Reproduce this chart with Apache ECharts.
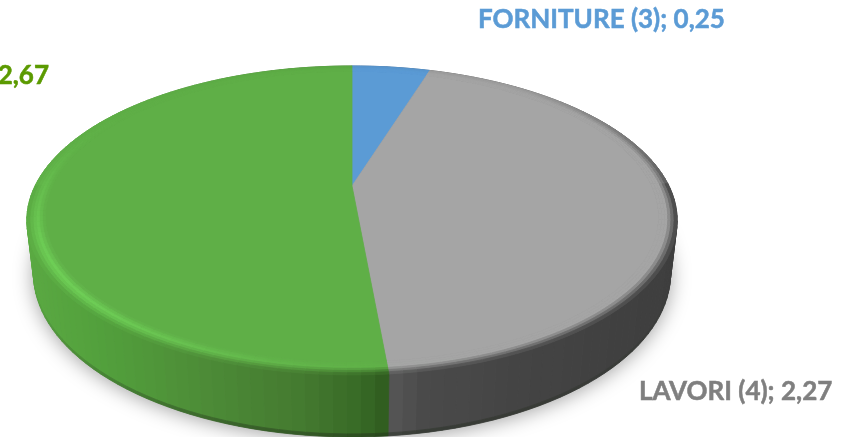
<!DOCTYPE html>
<html><head><meta charset="utf-8">
<style>html,body{margin:0;padding:0;background:#fff}#c{width:856px;height:437px}</style>
<script src="https://cdn.jsdelivr.net/npm/echarts@6/dist/echarts.min.js"></script>
</head><body><div id="c"></div>
<script>
const sliceNames = ['FORNITURE', 'LAVORI', 'SERVIZI'];
const sliceValues = [0.25, 2.27, 2.67];
const labelTexts = ['FORNITURE (3); 0,25', 'LAVORI (4); 2,27', '2,67'];
const topColors = ['#5B9BD5', '#A5A5A5', '#5FAF47'];

const total = sliceValues.reduce((a, b) => a + b, 0);
const hex = c => [1, 3, 5].map(i => parseInt(c.substr(i, 2), 16));
const mix = (a, b, t) => a.map((v, i) => v + (b[i] - v) * t);
const css = a => 'rgb(' + a.map(v => Math.round(v)).join(',') + ')';

// perspective projection of the tilted disc
const CX = 352, CY = 186, R = 317, RY = 146.8, K = 0.223, DEPTH = 53.2, M = 0.02;
function project(theta, r, d) {
  const x = r * Math.sin(theta), y = r * Math.cos(theta);
  const w = 1 + K * y + M * d;
  return [CX + R * x / w, CY + (-RY * y + DEPTH * d) / w];
}
function sliceAngles(i) {
  let s = 0;
  for (let j = 0; j < i; j++) s += sliceValues[j];
  return [s / total * 2 * Math.PI, (s + sliceValues[i]) / total * 2 * Math.PI];
}
const sideStops = [
  [[0, '#3a5f88'], [900, '#3a5f88']],
  [[380, '#5a5a5a'], [425, '#4a4a4a'], [520, '#444444'], [680, '#3e3e3e']],
  [[27, '#5aa942'], [100, '#52a03c'], [200, '#4d8c37'], [300, '#447a30'], [360, '#386a26'], [390, '#2e5a1e']]
];
function sideColor(i, x) {
  const s = sideStops[i];
  if (x <= s[0][0]) return hex(s[0][1]);
  for (let k = 1; k < s.length; k++) {
    if (x <= s[k][0]) return mix(hex(s[k - 1][1]), hex(s[k][1]), (x - s[k - 1][0]) / (s[k][0] - s[k - 1][0]));
  }
  return hex(s[s.length - 1][1]);
}
const steps = a => Math.max(2, Math.ceil((a[1] - a[0]) / (2 * Math.PI / 180)));
const poly = (pts, col, z2) => ({
  type: 'polygon', shape: { points: pts },
  style: { fill: col, stroke: col, lineWidth: 0.8 }, silent: true, z2: z2 || 0
});

function renderShadow() {
  const pts = [];
  for (let k = 0; k < 180; k++) pts.push(project(k * 2 * Math.PI / 180, 1, 1));
  return { type: 'polygon', shape: { points: pts }, silent: true,
    style: { fill: '#777', shadowBlur: 20, shadowColor: 'rgba(0,0,0,0.38)', shadowOffsetY: 2 } };
}
function renderSide(params) {
  const i = params.dataIndex, a = sliceAngles(i), n = steps(a), children = [];
  for (let k = 0; k < n; k++) {
    const t0 = a[0] + (a[1] - a[0]) * k / n, t1 = a[0] + (a[1] - a[0]) * (k + 1) / n;
    const mid = (t0 + t1) / 2;
    const c = sideColor(i, project(mid, 1, 0)[0]);
    const dark = 0.4 * Math.pow(Math.max(0, -Math.cos(mid)), 2);
    children.push(poly([project(t0, 1, 0), project(t1, 1, 0), project(t1, 1, 0.95), project(t0, 1, 0.95)], css(c)));
    children.push(poly([project(t0, 1, 0.95), project(t1, 1, 0.95), project(t1, 1, 1), project(t0, 1, 1)], css(mix(c, [30, 40, 25], dark))));
  }
  return { type: 'group', children };
}
function bevelColor(i, theta, t) {
  const top = hex(topColors[i]);
  const edge = sideColor(i, project(theta, 1, 0)[0]);
  const deg = theta * 180 / Math.PI;
  const h = Math.pow(Math.max(0, Math.cos((deg - 235) * Math.PI / 180)), 4);
  const light = top.map((v, idx) => v + [16, 34, 16][idx] * h);
  // how strongly the rim falls off to the side colour
  const back = Math.cos(theta);
  const rightDark = Math.max(0, Math.sin(theta)) * 0.8;
  const e = back > 0 ? Math.max(0.1, rightDark * (1 - back)) : 1;
  if (t < 0.45) return mix(top, light, t / 0.45);
  return mix(light, mix(top, edge, e), (t - 0.45) / 0.55);
}
function renderTop(params) {
  const i = params.dataIndex, a = sliceAngles(i), n = steps(a), children = [];
  const rIn = 0.945, bands = 6, fill = topColors[i];
  const pts = [project(0, 0, 0)];
  for (let k = 0; k <= n; k++) pts.push(project(a[0] + (a[1] - a[0]) * k / n, rIn, 0));
  children.push(poly(pts, fill));
  for (let k = 0; k < n; k++) {
    const t0 = a[0] + (a[1] - a[0]) * k / n, t1 = a[0] + (a[1] - a[0]) * (k + 1) / n;
    for (let b = 0; b < bands; b++) {
      const r0 = rIn + (1 - rIn) * b / bands, r1 = rIn + (1 - rIn) * (b + 1) / bands;
      const col = css(bevelColor(i, (t0 + t1) / 2, (b + 0.5) / bands));
      children.push(poly([project(t0, r0, 0), project(t1, r0, 0), project(t1, r1, 0), project(t0, r1, 0)], col));
    }
  }
  return { type: 'group', children };
}

const chart = echarts.init(document.getElementById('c'), null, { renderer: 'canvas' });
const labelFont = { fontFamily: 'Lato', fontWeight: 'bold', fontSize: 26, lineWidth: 0.5 };
chart.setOption({
  animation: false,
  backgroundColor: '#fff',
  series: [
    { type: 'custom', name: 'shadow', z: 1, coordinateSystem: 'none', renderItem: renderShadow, data: [total] },
    { type: 'custom', name: 'side', z: 2, coordinateSystem: 'none', renderItem: renderSide,
      data: sliceValues.map((v, i) => ({ name: sliceNames[i], value: v })) },
    { type: 'custom', name: 'top', z: 3, coordinateSystem: 'none', renderItem: renderTop,
      data: sliceValues.map((v, i) => ({ name: sliceNames[i], value: v })) }
  ],
  graphic: [
    { type: 'text', x: 478, y: 20, z: 10, style: Object.assign({ text: labelTexts[0], fill: '#5B9BD5', stroke: '#5B9BD5', verticalAlign: 'middle' }, labelFont) },
    { type: 'text', x: 639, y: 392, z: 10, style: Object.assign({ text: labelTexts[1], fill: '#7F7F7F', stroke: '#7F7F7F', verticalAlign: 'middle' }, labelFont) },
    { type: 'text', x: 49, y: 76, z: 10, style: Object.assign({ text: labelTexts[2], fill: '#5B9A00', stroke: '#5B9A00', align: 'right', verticalAlign: 'middle' }, labelFont) }
  ]
});
</script></body></html>
